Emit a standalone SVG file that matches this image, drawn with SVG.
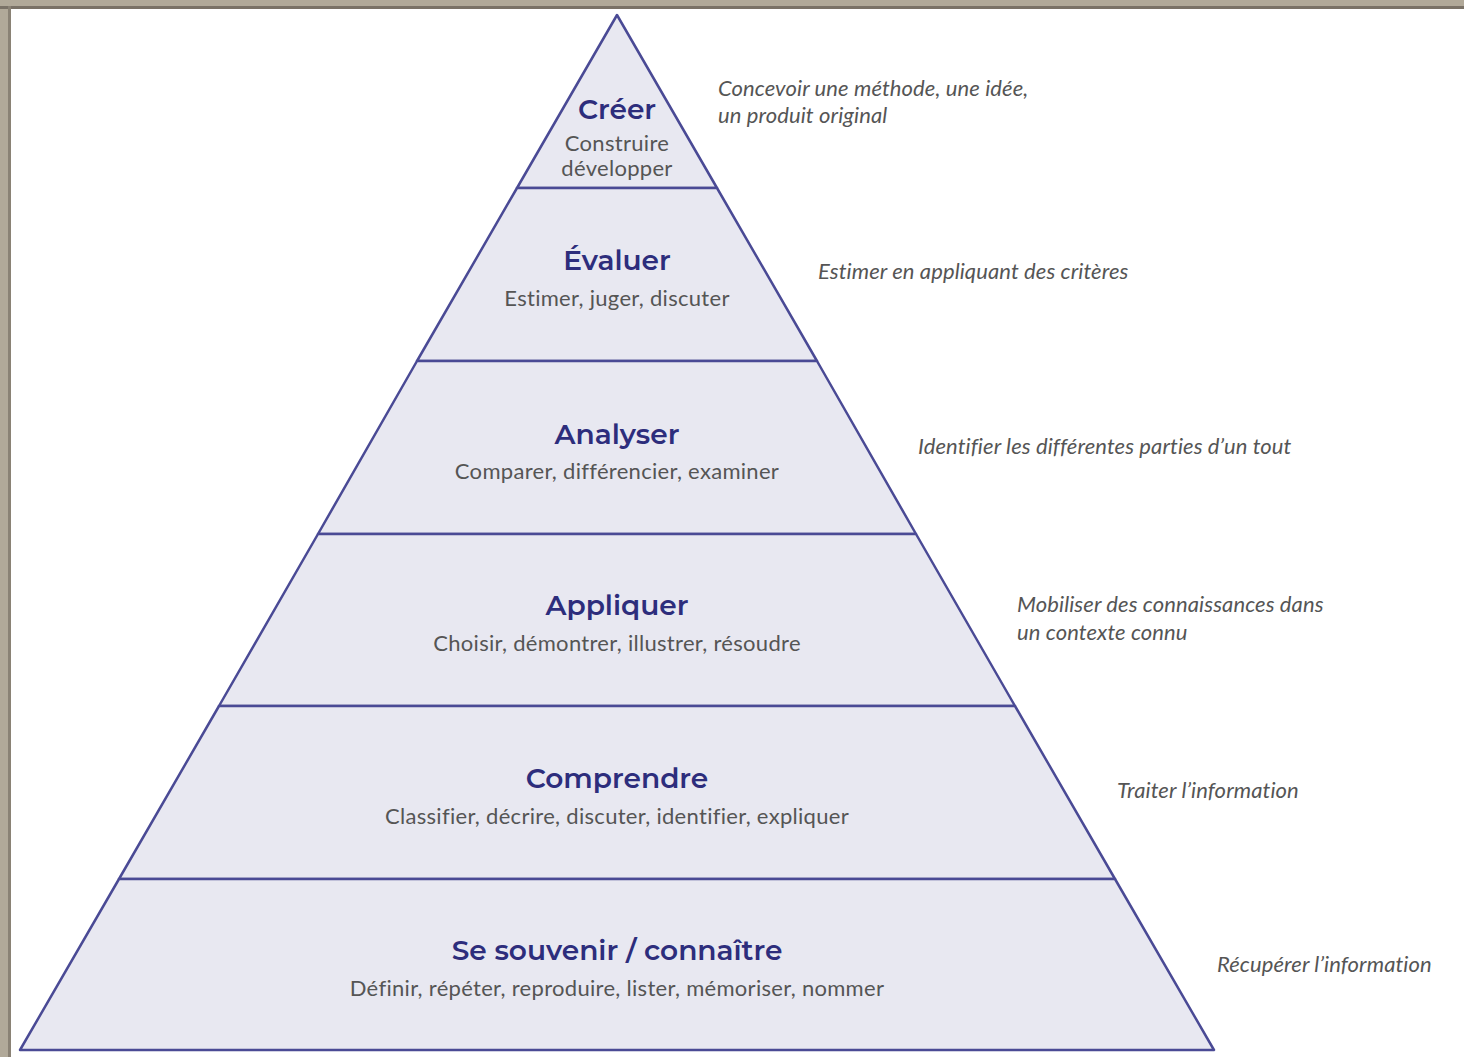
<svg xmlns="http://www.w3.org/2000/svg" width="1464" height="1057" viewBox="0 0 1464 1057">
<style>
.layer{fill:#e8e8f1;stroke:#4a4a95;stroke-width:2.5;stroke-linejoin:round}
.t{font-family:"Montserrat","Noto Sans","Open Sans",sans-serif;font-weight:600;font-size:28px;fill:#2d2d7c;text-anchor:middle}
.s{font-family:Lato,"Open Sans",sans-serif;font-size:22px;fill:#555;text-anchor:middle;letter-spacing:0.3px}
.d{font-family:Lato,"Open Sans",sans-serif;font-style:italic;font-size:22px;fill:#555;letter-spacing:0.1px}
</style>
<rect x="0" y="0" width="1464" height="1057" fill="#b1a999"/>
<rect x="0" y="6" width="1464" height="3" fill="#7a7267"/>
<rect x="8" y="6" width="3" height="1051" fill="#8a8275"/>
<rect x="11" y="9" width="1453" height="1048" fill="#ffffff"/>
<g id="creer">
<polygon class="layer" points="617,15 717,188 517,188"/>
<text class="t" x="617" y="119">Créer</text>
<text class="s" x="617" y="151">Construire</text>
<text class="s" x="617" y="176">développer</text>
</g>
<g id="evaluer">
<polygon class="layer" points="517,188 717,188 817,361 417,361"/>
<text class="t" x="617" y="270">Évaluer</text>
<text class="s" x="617" y="306">Estimer, juger, discuter</text>
</g>
<g id="analyser">
<polygon class="layer" points="417,361 817,361 916,534 318,534"/>
<text class="t" x="617" y="444">Analyser</text>
<text class="s" x="617" y="479">Comparer, différencier, examiner</text>
</g>
<g id="appliquer">
<polygon class="layer" points="318,534 916,534 1015,706 219,706"/>
<text class="t" x="617" y="615">Appliquer</text>
<text class="s" x="617" y="651">Choisir, démontrer, illustrer, résoudre</text>
</g>
<g id="comprendre">
<polygon class="layer" points="219,706 1015,706 1115,879 119,879"/>
<text class="t" x="617" y="788">Comprendre</text>
<text class="s" x="617" y="824">Classifier, décrire, discuter, identifier, expliquer</text>
</g>
<g id="souvenir">
<polygon class="layer" points="119,879 1115,879 1214,1050 20,1050"/>
<text class="t" x="617" y="960">Se souvenir / connaître</text>
<text class="s" x="617" y="996">Définir, répéter, reproduire, lister, mémoriser, nommer</text>
</g>
<g id="descriptions">
<text class="d" x="718" y="96">Concevoir une méthode, une idée,</text>
<text class="d" x="718" y="123">un produit original</text>
<text class="d" x="818" y="279">Estimer en appliquant des critères</text>
<text class="d" x="918" y="454">Identifier les différentes parties d’un tout</text>
<text class="d" x="1017" y="612">Mobiliser des connaissances dans</text>
<text class="d" x="1017" y="640">un contexte connu</text>
<text class="d" x="1117" y="798">Traiter l’information</text>
<text class="d" x="1217" y="972">Récupérer l’information</text>
</g>
</svg>
